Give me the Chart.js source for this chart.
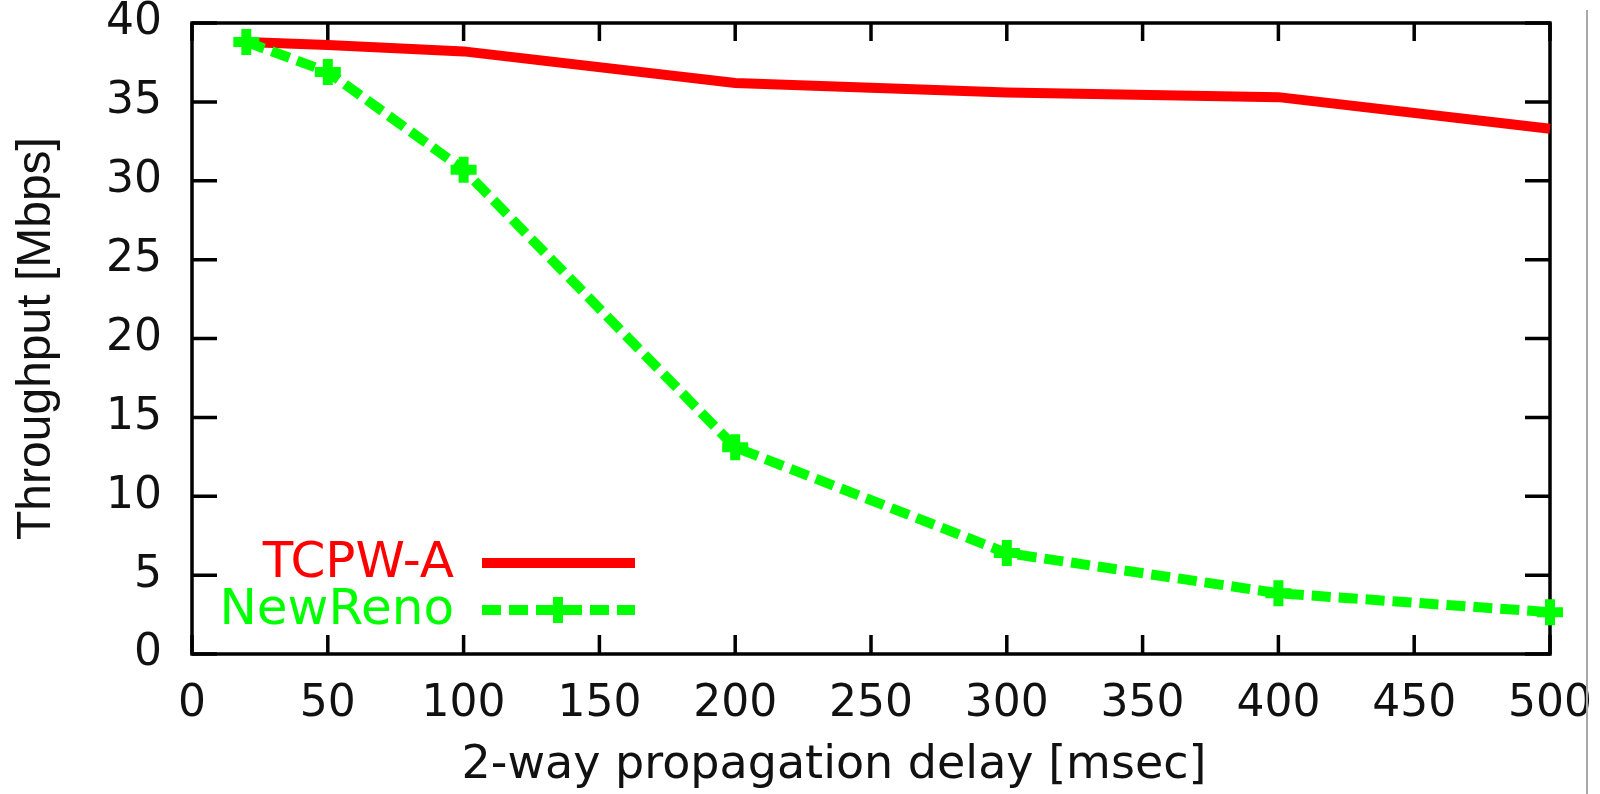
<!DOCTYPE html>
<html>
<head>
<meta charset="utf-8">
<script src="https://cdn.jsdelivr.net/npm/chart.js@4"></script>
<style>
  html, body { margin: 0; padding: 0; background: #fff; }
  #wrap { position: relative; width: 1600px; height: 794px; }
  #edge { position: absolute; left: 1586px; top: 10px; width: 2px; height: 784px; background: #a8a8a8; }
</style>
</head>
<body>
<div id="wrap">
  <canvas id="chart" width="1600" height="794"></canvas>
  <div id="edge"></div>
</div>
<script>
// delay values (msec) and throughput (Mbps)
const delays = [20, 50, 100, 200, 300, 400, 500];
const tcpwA = [38.8, 38.6, 38.2, 36.2, 35.6, 35.3, 33.3];
const newReno = [38.8, 36.9, 30.7, 13.1, 6.4, 3.85, 2.65];

const xTicks = [0, 50, 100, 150, 200, 250, 300, 350, 400, 450, 500];
const yTicks = [0, 5, 10, 15, 20, 25, 30, 35, 40];
const xTitle = '2-way propagation delay [msec]';
const yTitle = 'Throughput [Mbps]';

const wide = '"DejaVu Sans", "Liberation Sans", sans-serif';
const tickFont = { family: wide, size: 44 };
const ink = '#111';

// gnuplot-like box with inward ticks on all four sides
const framePlugin = {
  id: 'frame',
  beforeDatasetsDraw(chart) {
    const { ctx, chartArea: a, scales: { x, y } } = chart;
    ctx.save();
    ctx.strokeStyle = '#000';
    ctx.lineWidth = 3.5;
    ctx.strokeRect(a.left, a.top, a.right - a.left, a.bottom - a.top);
    ctx.beginPath();
    xTicks.forEach(v => {
      const px = x.getPixelForValue(v);
      ctx.moveTo(px, a.bottom); ctx.lineTo(px, a.bottom - 19);
      ctx.moveTo(px, a.top); ctx.lineTo(px, a.top + 18);
    });
    yTicks.forEach(v => {
      const py = y.getPixelForValue(v);
      ctx.moveTo(a.left, py); ctx.lineTo(a.left + 25, py);
      ctx.moveTo(a.right, py); ctx.lineTo(a.right - 25, py);
    });
    ctx.stroke();
    // x axis title sits a bit left of the plot centre
    ctx.font = `46px ${wide}`;
    ctx.fillStyle = ink;
    ctx.textAlign = 'center';
    ctx.textBaseline = 'middle';
    ctx.fillText(xTitle, 834, 766);
    ctx.restore();
  }
};

// legend inside the plot: right-aligned label, then a line sample
const keyPlugin = {
  id: 'key',
  afterDatasetsDraw(chart) {
    const ctx = chart.ctx;
    const rows = [563, 610];
    chart.data.datasets.forEach((ds, i) => {
      const yy = rows[i];
      ctx.save();
      ctx.font = `50px ${wide}`;
      ctx.fillStyle = ds.borderColor;
      ctx.textAlign = 'right';
      ctx.textBaseline = 'middle';
      ctx.fillText(ds.label, 454, yy + 1);
      ctx.strokeStyle = ds.borderColor;
      ctx.lineWidth = ds.borderWidth;
      ctx.setLineDash(ds.borderDash || []);
      ctx.beginPath();
      ctx.moveTo(482, yy);
      ctx.lineTo(635, yy);
      ctx.stroke();
      if (ds.pointRadius > 0) {
        const r = ds.pointRadius, cx = 558;
        ctx.setLineDash([]);
        ctx.lineWidth = ds.pointBorderWidth;
        ctx.beginPath();
        ctx.moveTo(cx - r, yy); ctx.lineTo(cx + r, yy);
        ctx.moveTo(cx, yy - r); ctx.lineTo(cx, yy + r);
        ctx.stroke();
      }
      ctx.restore();
    });
  }
};

new Chart(document.getElementById('chart'), {
  type: 'line',
  data: {
    labels: delays,
    datasets: [
      {
        label: 'TCPW-A',
        data: delays.map((d, i) => ({ x: d, y: tcpwA[i] })),
        borderColor: '#ff0000',
        borderWidth: 10,
        pointRadius: 0,
        tension: 0,
        order: 2,
        clip: false
      },
      {
        label: 'NewReno',
        data: delays.map((d, i) => ({ x: d, y: newReno[i] })),
        borderColor: '#00ff00',
        backgroundColor: '#00ff00',
        borderWidth: 10,
        borderDash: [19, 8],
        pointStyle: 'cross',
        pointRadius: 13,
        pointBorderWidth: 10,
        pointBorderColor: '#00ff00',
        tension: 0,
        order: 1,
        clip: false
      }
    ]
  },
  options: {
    responsive: false,
    animation: false,
    events: [],
    layout: { padding: { top: 18, right: 50, bottom: 0, left: 0 } },
    plugins: { legend: { display: false }, tooltip: { enabled: false } },
    scales: {
      x: {
        type: 'linear',
        min: 0,
        max: 500,
        afterBuildTicks: s => { s.ticks = xTicks.map(v => ({ value: v })); },
        afterFit: s => { s.height = 140; s.paddingLeft = 0; s.paddingRight = 0; },
        grid: { display: false },
        border: { display: false },
        ticks: { font: tickFont, color: ink, padding: 16, maxRotation: 0, autoSkip: false }
      },
      y: {
        min: 0,
        max: 40,
        afterBuildTicks: s => { s.ticks = yTicks.map(v => ({ value: v })); },
        afterFit: s => { s.width = 192; s.paddingTop = 0; s.paddingBottom = 0; },
        grid: { display: false },
        border: { display: false },
        ticks: { font: tickFont, color: ink, padding: 22, autoSkip: false },
        title: {
          display: true, text: yTitle, color: ink,
          font: { family: '"Liberation Sans", Arial, sans-serif', size: 48 },
          padding: { top: 8, bottom: 0 }
        }
      }
    }
  },
  plugins: [framePlugin, keyPlugin]
});
</script>
</body>
</html>
